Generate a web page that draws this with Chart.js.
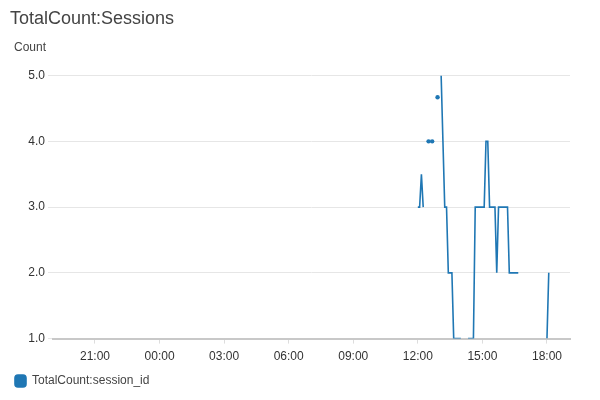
<!DOCTYPE html>
<html>
<head>
<meta charset="utf-8">
<script src="https://cdn.jsdelivr.net/npm/chart.js@4.4.1/dist/chart.umd.min.js"></script>
<style>
  html, body { margin: 0; padding: 0; background: #fff; }
  #wrap { width: 600px; height: 400px; position: relative; }
</style>
</head>
<body>
<div id="wrap"><canvas id="c" width="600" height="400"></canvas></div>
<script>
// ---- Data (second day times, 5-minute samples; null = no data) ----
const seriesName = 'TotalCount:session_id';
const chartTitle = 'TotalCount:Sessions';
const yAxisLabel = 'Count';
const times = [
  '12:00','12:05','12:10','12:15','12:20','12:25','12:30','12:35','12:40','12:45',
  '12:50','12:55','13:00','13:05','13:10','13:15','13:20','13:25','13:30','13:35',
  '13:40','13:45','13:50','13:55','14:00','14:05','14:10','14:15','14:20','14:25',
  '14:30','14:35','14:40','14:45','14:50','14:55','15:00','15:05','15:10','15:15',
  '15:20','15:25','15:30','15:35','15:40','15:45','15:50','15:55','16:00','16:05',
  '16:10','16:15','16:20','16:25','16:30','16:35','16:40','16:45','17:55','18:00',
  '18:05'
];
const values = [
  3, 3, 3.5, 3, null, null, 4, null, 4, null,
  null, 4.67, null, 5, 4, 3, 3, 2, 2, 2,
  1, 1, 1, 1, 1, null, null, null, 1, 1,
  1, 1, 3, 3, 3, 3, 3, 3, 4, 4,
  3, 3, 3, 3, 2, 3, 3, 3, 3, 3,
  3, 2, 2, 2, 2, 2, 2, null, null, 1,
  2
];
const xTickHours = [21, 24, 27, 30, 33, 36, 39, 42]; // hours from start of first day
const yTicks = [1, 2, 3, 4, 5];
const xRange = [19.05, 43.07];

// ---- Build ----
const points = times.map((t, i) => {
  const [h, m] = t.split(':').map(Number);
  return { x: 24 + h + m / 60, y: values[i] };
});

const FONT = '"Liberation Sans", Arial, Helvetica, sans-serif';

const countLabel = {
  id: 'countLabel',
  afterDraw(chart) {
    const ctx = chart.ctx;
    ctx.save();
    ctx.font = '12px ' + FONT;
    ctx.fillStyle = '#444';
    ctx.textBaseline = 'middle';
    ctx.textAlign = 'left';
    ctx.fillText(yAxisLabel, 14, 48);
    ctx.restore();
  }
};

new Chart(document.getElementById('c'), {
  type: 'line',
  data: {
    datasets: [{
      label: seriesName,
      data: points,
      borderColor: '#1f77b4',
      backgroundColor: '#1f77b4',
      borderWidth: 1.6,
      tension: 0,
      spanGaps: false,
      fill: false,
      pointRadius: (ctx) => {
        const d = ctx.dataset.data, i = ctx.dataIndex;
        if (!d[i] || d[i].y == null) return 0;
        const p = d[i - 1], n = d[i + 1];
        const iso = (!p || p.y == null) && (!n || n.y == null);
        return iso ? 2.2 : 0;
      },
      pointHoverRadius: 0,
      pointBorderWidth: 0,
      pointBackgroundColor: '#1f77b4'
    }]
  },
  options: {
    responsive: false,
    animation: false,
    layout: { padding: { left: 10, right: 30, top: 0, bottom: 3 } },
    plugins: {
      title: {
        display: true,
        text: chartTitle,
        align: 'start',
        color: '#444',
        font: { family: FONT, size: 18, weight: 'normal' },
        padding: { top: 8, bottom: 46 }
      },
      legend: {
        display: true,
        position: 'bottom',
        align: 'start',
        labels: {
          color: '#444',
          font: { family: FONT, size: 12 },
          boxWidth: 11,
          boxHeight: 12,
          useBorderRadius: true,
          borderRadius: 3,
          padding: 5
        }
      },
      tooltip: { enabled: false }
    },
    scales: {
      x: {
        type: 'linear',
        min: xRange[0],
        max: xRange[1],
        afterBuildTicks: (s) => { s.ticks = xTickHours.map(v => ({ value: v })); },
        ticks: {
          color: '#333',
          font: { family: FONT, size: 12 },
          padding: 6,
          maxRotation: 0,
          callback: (v) => String(v % 24).padStart(2, '0') + ':00'
        },
        grid: { drawOnChartArea: false, tickLength: 5, color: '#ddd' },
        border: { display: true, color: '#c8c8c8', width: 2 }
      },
      y: {
        type: 'linear',
        min: 1,
        max: 5,
        afterBuildTicks: (s) => { s.ticks = yTicks.map(v => ({ value: v })); },
        afterFit: (s) => { s.width = 43; },
        ticks: {
          color: '#333',
          font: { family: FONT, size: 12 },
          padding: 3,
          callback: (v) => Number(v).toFixed(1)
        },
        grid: { color: '#e6e6e6', tickLength: 5, lineWidth: 1 },
        border: { display: false }
      }
    }
  },
  plugins: [countLabel]
});
</script>
</body>
</html>
